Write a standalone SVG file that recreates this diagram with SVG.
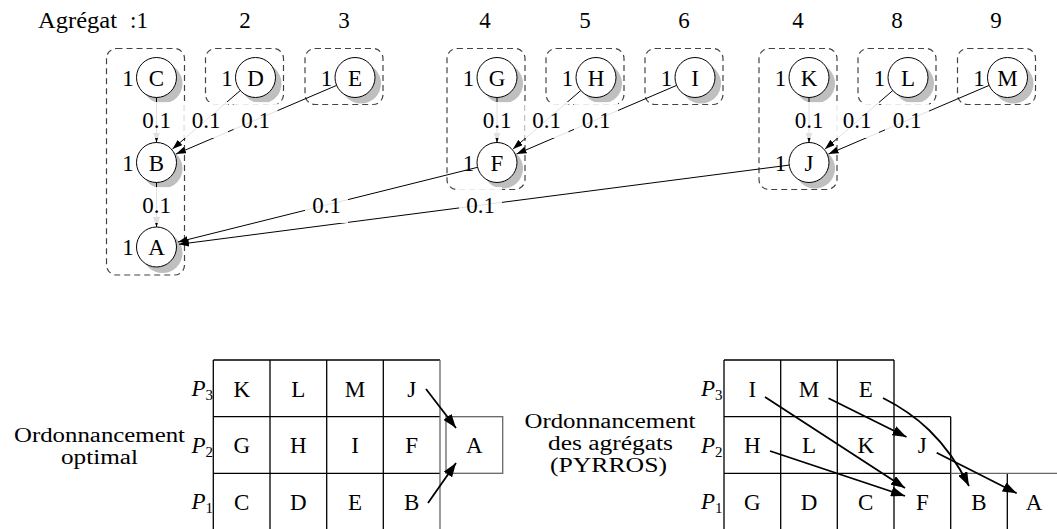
<svg xmlns="http://www.w3.org/2000/svg" width="1057" height="529" viewBox="0 0 1057 529">
<defs>
<style>
.t{font-family:"Liberation Serif","DejaVu Serif",serif;font-size:23px;fill:#000}
.s{font-size:20px}
.m{text-anchor:middle}
.it{font-style:italic}
.box{fill:none;stroke:#444;stroke-width:1.2;stroke-dasharray:6 4}
.sh{fill:#bfbfbf}
.nd{fill:#fff;stroke:#000;stroke-width:1}
.e{stroke:#000;stroke-width:1;fill:none;marker-end:url(#ah)}
.lb{fill:#fff;fill-opacity:0.88}
.g{stroke:#000;stroke-width:1.3;fill:none}
.gl{stroke:#666;stroke-width:1.3;fill:none}
.a2{stroke:#000;stroke-width:1.8;fill:none;marker-end:url(#ah2)}
</style>
<marker id="ah" markerUnits="userSpaceOnUse" markerWidth="10" markerHeight="7" refX="10" refY="3.5" orient="auto">
<path d="M0,0 L10,3.5 L0,7 z" fill="#000"/>
</marker>
<marker id="ah2" markerUnits="userSpaceOnUse" markerWidth="14" markerHeight="10" refX="14" refY="5" orient="auto">
<path d="M0,0 L14,5 L0,10 z" fill="#000"/>
</marker>
</defs>
<rect x="0" y="0" width="1057" height="529" fill="#fff"/>

<g id="header">
<text class="t" x="38" y="28" textLength="79" lengthAdjust="spacingAndGlyphs">Agrégat</text>
<text class="t" x="130" y="28">:1</text>
<text class="t m" x="245" y="28">2</text>
<text class="t m" x="344" y="28">3</text>
<text class="t m" x="485" y="28">4</text>
<text class="t m" x="585" y="28">5</text>
<text class="t m" x="684" y="28">6</text>
<text class="t m" x="798" y="28">4</text>
<text class="t m" x="897" y="28">8</text>
<text class="t m" x="996" y="28">9</text>
</g>

<g id="clusters">
<rect class="box" x="106.5" y="48.5" width="78" height="226.5" rx="10"/>
<rect class="box" x="205.5" y="48.5" width="78" height="56" rx="10"/>
<rect class="box" x="305" y="48.5" width="78" height="56" rx="10"/>
<rect class="box" x="447" y="48.5" width="78" height="141" rx="10"/>
<rect class="box" x="546" y="48.5" width="78" height="56" rx="10"/>
<rect class="box" x="645" y="48.5" width="78" height="56" rx="10"/>
<rect class="box" x="759" y="48.5" width="78" height="141" rx="10"/>
<rect class="box" x="858" y="48.5" width="78" height="56" rx="10"/>
<rect class="box" x="957.5" y="48.5" width="78" height="56" rx="10"/>
</g>

<g id="node-C"><circle class="sh" cx="162.5" cy="83.5" r="20"/><circle class="nd" cx="156.5" cy="77.5" r="20"/><text class="t m" x="156.5" y="85.5">C</text><text class="t m" x="128" y="85.5">1</text></g>
<g id="node-B"><circle class="sh" cx="162.5" cy="168.5" r="20"/><circle class="nd" cx="156.5" cy="162.5" r="20"/><text class="t m" x="156.5" y="170.5">B</text><text class="t m" x="128" y="170.5">1</text></g>
<g id="node-A"><circle class="sh" cx="162.5" cy="253" r="20"/><circle class="nd" cx="156.5" cy="247" r="20"/><text class="t m" x="156.5" y="255">A</text><text class="t m" x="128" y="255">1</text></g>
<g id="node-D"><circle class="sh" cx="261.5" cy="83.5" r="20"/><circle class="nd" cx="255.5" cy="77.5" r="20"/><text class="t m" x="255.5" y="85.5">D</text><text class="t m" x="227" y="85.5">1</text></g>
<g id="node-E"><circle class="sh" cx="361" cy="83.5" r="20"/><circle class="nd" cx="355" cy="77.5" r="20"/><text class="t m" x="355" y="85.5">E</text><text class="t m" x="326.5" y="85.5">1</text></g>
<g id="node-G"><circle class="sh" cx="503" cy="83.5" r="20"/><circle class="nd" cx="497" cy="77.5" r="20"/><text class="t m" x="497" y="85.5">G</text><text class="t m" x="468.5" y="85.5">1</text></g>
<g id="node-F"><circle class="sh" cx="503" cy="168.5" r="20"/><circle class="nd" cx="497" cy="162.5" r="20"/><text class="t m" x="497" y="170.5">F</text><text class="t m" x="468.5" y="170.5">1</text></g>
<g id="node-H"><circle class="sh" cx="602" cy="83.5" r="20"/><circle class="nd" cx="596" cy="77.5" r="20"/><text class="t m" x="596" y="85.5">H</text><text class="t m" x="567.5" y="85.5">1</text></g>
<g id="node-I"><circle class="sh" cx="701" cy="83.5" r="20"/><circle class="nd" cx="695" cy="77.5" r="20"/><text class="t m" x="695" y="85.5">I</text><text class="t m" x="666.5" y="85.5">1</text></g>
<g id="node-K"><circle class="sh" cx="815" cy="83.5" r="20"/><circle class="nd" cx="809" cy="77.5" r="20"/><text class="t m" x="809" y="85.5">K</text><text class="t m" x="780.5" y="85.5">1</text></g>
<g id="node-J"><circle class="sh" cx="815" cy="168.5" r="20"/><circle class="nd" cx="809" cy="162.5" r="20"/><text class="t m" x="809" y="170.5">J</text><text class="t m" x="780.5" y="170.5">1</text></g>
<g id="node-L"><circle class="sh" cx="914" cy="83.5" r="20"/><circle class="nd" cx="908" cy="77.5" r="20"/><text class="t m" x="908" y="85.5">L</text><text class="t m" x="879.5" y="85.5">1</text></g>
<g id="node-M"><circle class="sh" cx="1013.5" cy="83.5" r="20"/><circle class="nd" cx="1007.5" cy="77.5" r="20"/><text class="t m" x="1007.5" y="85.5">M</text><text class="t m" x="979" y="85.5">1</text></g>

<g id="connectors">
<line class="e" x1="156.5" y1="97.5" x2="156.5" y2="142.5"/>
<line class="e" x1="156.5" y1="182.5" x2="156.5" y2="227"/>
<line class="e" x1="240.3" y1="90.5" x2="172.5" y2="149"/>
<line class="e" x1="336.6" y1="85.4" x2="176" y2="154"/>
<line class="e" x1="497" y1="97.5" x2="497" y2="142.5"/>
<line class="e" x1="580.8" y1="90.5" x2="513" y2="149"/>
<line class="e" x1="676.6" y1="85.4" x2="516.5" y2="154"/>
<line class="e" x1="809" y1="97.5" x2="809" y2="142.5"/>
<line class="e" x1="892.8" y1="90.5" x2="825" y2="149"/>
<line class="e" x1="989.1" y1="85.4" x2="828.5" y2="154"/>
<line class="e" x1="477.6" y1="167.3" x2="178" y2="242"/>
<line class="e" x1="789.2" y1="165.1" x2="179" y2="244.3"/>
<g id="edge-labels">
<rect class="lb" x="134.5" y="102" width="44" height="36"/>
<rect class="lb" x="184" y="102" width="44" height="36"/>
<rect class="lb" x="233.5" y="102" width="44" height="36"/>
<rect class="lb" x="475" y="102" width="44" height="36"/>
<rect class="lb" x="524.5" y="102" width="44" height="36"/>
<rect class="lb" x="574" y="102" width="44" height="36"/>
<rect class="lb" x="787" y="102" width="44" height="36"/>
<rect class="lb" x="835" y="102" width="44" height="36"/>
<rect class="lb" x="885" y="102" width="44" height="36"/>
<rect class="lb" x="134.5" y="187" width="44" height="36"/>
<rect class="lb" x="305" y="187" width="43" height="36"/>
<rect class="lb" x="459" y="187" width="43" height="36"/>
<text class="t m" x="156.5" y="127.5">0.1</text>
<text class="t m" x="206" y="127.5">0.1</text>
<text class="t m" x="255.5" y="127.5">0.1</text>
<text class="t m" x="497" y="127.5">0.1</text>
<text class="t m" x="546.5" y="127.5">0.1</text>
<text class="t m" x="596" y="127.5">0.1</text>
<text class="t m" x="809" y="127.5">0.1</text>
<text class="t m" x="857" y="127.5">0.1</text>
<text class="t m" x="907" y="127.5">0.1</text>
<text class="t m" x="156.5" y="212.5">0.1</text>
<text class="t m" x="326.5" y="212.5">0.1</text>
<text class="t m" x="480.5" y="212.5">0.1</text>
</g>
</g>

<g id="schedule-optimal">
<text class="t s m"><tspan x="99.5" y="442" textLength="171" lengthAdjust="spacingAndGlyphs">Ordonnancement</tspan><tspan x="99.5" y="464" textLength="77" lengthAdjust="spacingAndGlyphs">optimal</tspan></text>
<text class="t it" x="191.5" y="396">P<tspan font-style="normal" font-size="15" dy="4">3</tspan></text>
<text class="t it" x="191.5" y="452.5">P<tspan font-style="normal" font-size="15" dy="4">2</tspan></text>
<text class="t it" x="191.5" y="509">P<tspan font-style="normal" font-size="15" dy="4">1</tspan></text>
<path class="g" d="M213.3,360 H440 M213.3,416.7 H440 M213.3,473.3 H440 M213.3,360 V529 M270,360 V529 M326.7,360 V529 M383.3,360 V529"/>
<line class="gl" x1="440" y1="360" x2="440" y2="529"/>
<rect class="gl" x="446" y="416.7" width="56.7" height="56.6"/>
<text class="t m" x="241.7" y="396.5">K</text>
<text class="t m" x="298.3" y="396.5">L</text>
<text class="t m" x="355" y="396.5">M</text>
<text class="t m" x="411.7" y="396.5">J</text>
<text class="t m" x="241.7" y="453">G</text>
<text class="t m" x="298.3" y="453">H</text>
<text class="t m" x="355" y="453">I</text>
<text class="t m" x="411.7" y="453">F</text>
<text class="t m" x="241.7" y="509.5">C</text>
<text class="t m" x="298.3" y="509.5">D</text>
<text class="t m" x="355" y="509.5">E</text>
<text class="t m" x="411.7" y="509.5">B</text>
<text class="t m" x="474.3" y="453">A</text>
<line class="a2" x1="426" y1="389" x2="456" y2="428"/>
<line class="a2" x1="428" y1="503" x2="456" y2="463"/>
</g>

<g id="schedule-pyrros">
<text class="t s m"><tspan x="610" y="428" textLength="171" lengthAdjust="spacingAndGlyphs">Ordonnancement</tspan><tspan x="610.5" y="450" textLength="125" lengthAdjust="spacingAndGlyphs">des agrégats</tspan><tspan x="608.5" y="472" textLength="117" lengthAdjust="spacingAndGlyphs">(PYRROS)</tspan></text>
<text class="t it" x="701" y="396">P<tspan font-style="normal" font-size="15" dy="4">3</tspan></text>
<text class="t it" x="701" y="452.5">P<tspan font-style="normal" font-size="15" dy="4">2</tspan></text>
<text class="t it" x="701" y="509">P<tspan font-style="normal" font-size="15" dy="4">1</tspan></text>
<path class="g" d="M724,360 H894 M724,416.7 H950.7 M724,473.3 H950.7 M724,360 V529 M780.7,360 V529 M837.3,360 V529 M894,360 V529 M950.7,416.7 V529 M1007.3,473.3 V529"/>
<line class="gl" x1="950.7" y1="473.3" x2="1057" y2="473.3"/>
<text class="t m" x="752.3" y="396.5">I</text>
<text class="t m" x="809" y="396.5">M</text>
<text class="t m" x="865.7" y="396.5">E</text>
<text class="t m" x="752.3" y="453">H</text>
<text class="t m" x="809" y="453">L</text>
<text class="t m" x="865.7" y="453">K</text>
<text class="t m" x="922.3" y="453">J</text>
<text class="t m" x="752.3" y="509.5">G</text>
<text class="t m" x="809" y="509.5">D</text>
<text class="t m" x="865.7" y="509.5">C</text>
<text class="t m" x="922.3" y="509.5">F</text>
<text class="t m" x="979" y="509.5">B</text>
<text class="t m" x="1034" y="509.5">A</text>
<line class="a2" x1="765" y1="397" x2="905" y2="488"/>
<line class="a2" x1="770" y1="451" x2="905" y2="496"/>
<line class="a2" x1="828.5" y1="398.3" x2="906.5" y2="437"/>
<path class="a2" d="M883,398 C915,414 945,438 969,486"/>
<line class="a2" x1="936.7" y1="452.7" x2="1016.7" y2="493.3"/>
</g>
</svg>
